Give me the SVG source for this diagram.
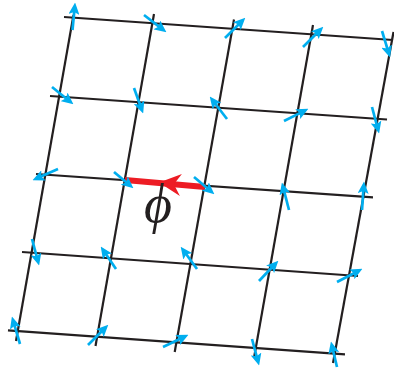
<svg xmlns="http://www.w3.org/2000/svg" width="394" height="370" viewBox="0 0 394 370">
<style>
.grid line{stroke:#231F20;stroke-width:2.2;fill:none;stroke-linecap:butt}
.spin line{stroke:#00AEEF;stroke-width:2.7;fill:none;marker-end:url(#ah)}
.lbl{font-family:"Liberation Serif","DejaVu Serif",serif;font-style:italic;font-size:54px;fill:#231F20}
</style>
<defs>
<marker id="ah" markerUnits="userSpaceOnUse" viewBox="0 0 12 11" markerWidth="12" markerHeight="11" refX="3.5" refY="5.5" orient="auto">
<path d="M0,0 L12,5.5 L0,11 L2.5,5.5 z" fill="#00AEEF"/>
</marker>
</defs>
<rect width="394" height="370" fill="#ffffff"/>
<g id="lattice" class="grid">
<line x1="64" y1="17" x2="393" y2="40"/>
<line x1="50" y1="96" x2="387" y2="119.5"/>
<line x1="36" y1="174" x2="373" y2="197.3"/>
<line x1="22" y1="252" x2="358" y2="276"/>
<line x1="8" y1="330.3" x2="345" y2="354.3"/>
<line x1="73.5" y1="15" x2="16" y2="341"/>
<line x1="154" y1="14" x2="95.5" y2="346"/>
<line x1="234" y1="19.5" x2="174.7" y2="352"/>
<line x1="313" y1="25" x2="254" y2="358"/>
<line x1="393.5" y1="32" x2="333" y2="363"/>
</g>
<g id="phi-link">
<line x1="125" y1="180" x2="205" y2="187" stroke="#ED1C24" stroke-width="6"/>
<polygon points="159,182.5 181.9,173.9 173.9,184.3 179.9,195.9" fill="#ED1C24"/>
</g>
<g id="spins" class="spin">
<line x1="72.5" y1="30" x2="74.3" y2="11"/>
<line x1="144" y1="15" x2="159.7" y2="27.1"/>
<line x1="225" y1="38" x2="239.3" y2="23.7"/>
<line x1="303" y1="47" x2="317.3" y2="32.7"/>
<line x1="382" y1="31" x2="387.6" y2="49.4"/>
<line x1="52" y1="87" x2="66.8" y2="99"/>
<line x1="134" y1="88" x2="140.3" y2="105.5"/>
<line x1="227" y1="119" x2="214.9" y2="103.3"/>
<line x1="284" y1="121" x2="300.8" y2="112.6"/>
<line x1="372" y1="107" x2="376.9" y2="125.3"/>
<line x1="58" y1="169" x2="40.3" y2="176.8"/>
<line x1="114" y1="172" x2="126.9" y2="182.8"/>
<line x1="194" y1="177" x2="207.9" y2="188.8"/>
<line x1="289" y1="210" x2="284" y2="190.7"/>
<line x1="362" y1="210" x2="363.4" y2="190"/>
<line x1="32" y1="239" x2="36.9" y2="257.3"/>
<line x1="116" y1="269" x2="105.5" y2="253.6"/>
<line x1="197" y1="269" x2="185.7" y2="253.5"/>
<line x1="259" y1="281" x2="272.5" y2="266.8"/>
<line x1="337" y1="282" x2="354.9" y2="272.7"/>
<line x1="20" y1="344" x2="14.3" y2="324.7"/>
<line x1="88" y1="345" x2="102.3" y2="330.7"/>
<line x1="163" y1="347" x2="180.8" y2="338.5"/>
<line x1="252" y1="339" x2="256.9" y2="357.3"/>
<line x1="337" y1="367" x2="332.9" y2="349.8"/>
</g>
<g id="label">
<text class="lbl" x="158" y="222" text-anchor="middle">ϕ</text>
</g>
</svg>
